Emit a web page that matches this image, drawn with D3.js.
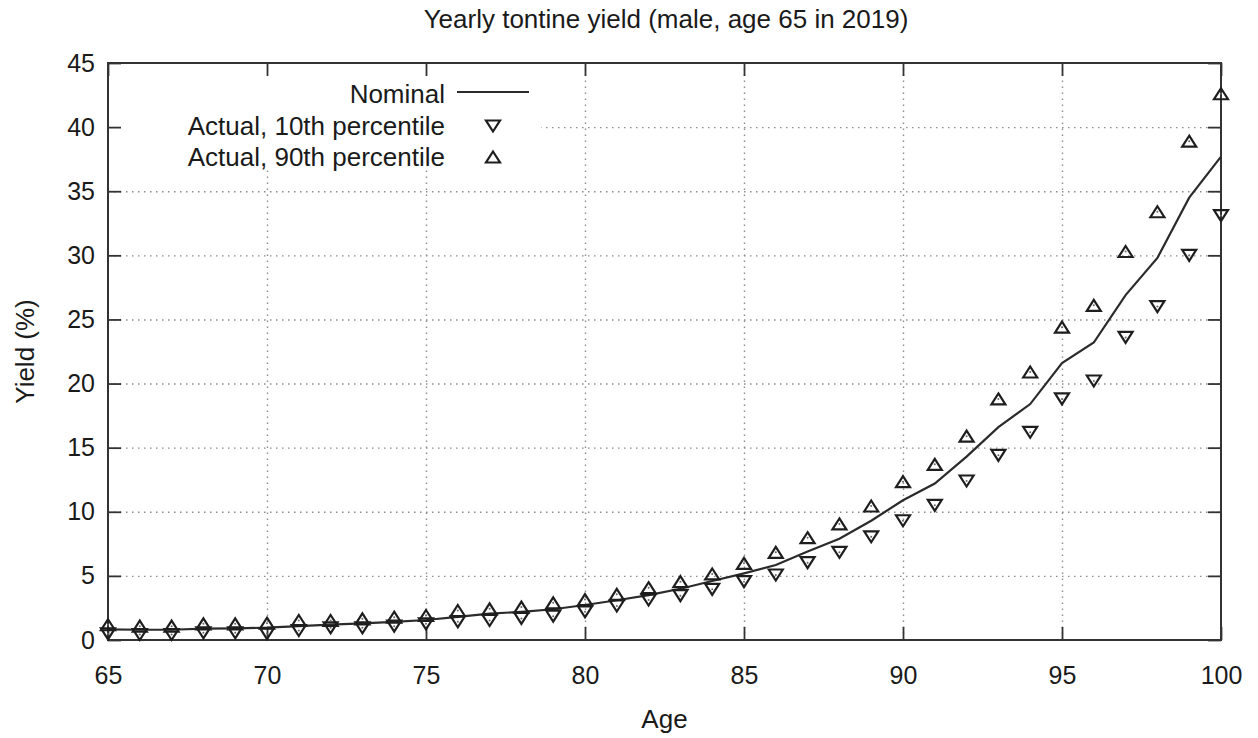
<!DOCTYPE html>
<html>
<head>
<meta charset="utf-8">
<script src="https://cdn.jsdelivr.net/npm/d3@7"></script>
<style>
    body { margin: 0; background: #fff; }
    text { font-family: "Liberation Sans", Arial, sans-serif; fill: #1a1a1a; }
    .grid line { stroke: #8c8c8c; stroke-width: 1.4; stroke-dasharray: 1.5 4.5; }
    .grid path { display: none; }
</style>
</head>
<body>
<div class="wrapper"></div>
<script>
const ages = [65, 66, 67, 68, 69, 70, 71, 72, 73, 74, 75, 76, 77, 78, 79, 80, 81, 82,
    83, 84, 85, 86, 87, 88, 89, 90, 91, 92, 93, 94, 95, 96, 97, 98, 99, 100];

const nominal = [0.83, 0.8, 0.8, 0.88, 0.9, 0.96, 1.08, 1.2, 1.3, 1.42, 1.56, 1.8, 2.05, 2.2,
    2.4, 2.73, 3.1, 3.5, 4.0, 4.6, 5.2, 5.85, 6.9, 7.9, 9.3, 10.9, 12.2, 14.3, 16.6, 18.4,
    21.6, 23.2, 26.9, 29.8, 34.5, 37.7];

const p10 = [0.48, 0.43, 0.43, 0.56, 0.56, 0.5, 0.74, 0.95, 0.95, 1.08, 1.26, 1.42, 1.52, 1.68,
    1.86, 2.2, 2.65, 3.12, 3.46, 3.95, 4.55, 5.07, 6.03, 6.84, 8.05, 9.3, 10.5, 12.4, 14.4, 16.2,
    18.8, 20.2, 23.6, 26.0, 30.0, 33.1];

const p90 = [1.19, 1.08, 1.08, 1.26, 1.26, 1.31, 1.52, 1.52, 1.65, 1.78, 1.91, 2.3, 2.43, 2.57,
    2.9, 3.15, 3.56, 4.08, 4.55, 5.15, 5.98, 6.84, 7.98, 9.05, 10.45, 12.35, 13.7, 15.9, 18.8, 20.9,
    24.4, 26.1, 30.3, 33.4, 38.9, 42.6];

const xTicks = [65, 70, 75, 80, 85, 90, 95, 100];
const yTicks = [0, 5, 10, 15, 20, 25, 30, 35, 40, 45];

const legendLabels = ["Nominal", "Actual, 10th percentile", "Actual, 90th percentile"];

const margin = {top: 63, right: 37, bottom: 98, left: 108},
    width = 1258 - margin.left - margin.right,
    height = 738 - margin.top - margin.bottom;

const svg = d3.select(".wrapper").append("svg")
    .attr("width", 1258)
    .attr("height", 738);

const g = svg.append("g")
    .attr("transform", "translate(" + margin.left + "," + margin.top + ")");

const x = d3.scaleLinear().domain([65, 100]).range([0, width]);
const y = d3.scaleLinear().domain([0, 45]).range([height, 0]);

// grid (inner ticks only)
g.append("g").attr("class", "grid")
    .call(d3.axisBottom(x).tickValues(xTicks.slice(1, -1)).tickSize(-height).tickFormat(""))
    .attr("transform", "translate(0," + height + ")");
g.append("g").attr("class", "grid")
    .call(d3.axisLeft(y).tickValues(yTicks.slice(1, -1)).tickSize(-width).tickFormat(""));

// opaque key box
g.append("rect")
    .attr("x", 1).attr("y", 1)
    .attr("width", 432).attr("height", 106)
    .style("fill", "#fff");

// axes with inward ticks on all four sides
const tick = 13;
const axB = g.append("g").attr("transform", "translate(0," + height + ")")
    .call(d3.axisBottom(x).tickValues(xTicks).tickSize(-tick).tickPadding(26));
const axL = g.append("g")
    .call(d3.axisLeft(y).tickValues(yTicks).tickSize(-tick).tickPadding(13));
g.append("g").call(d3.axisTop(x).tickValues(xTicks).tickSize(-tick).tickFormat(""));
g.append("g").attr("transform", "translate(" + width + ",0)")
    .call(d3.axisRight(y).tickValues(yTicks).tickSize(-tick).tickFormat(""));

g.selectAll(".domain").remove();
g.selectAll(".tick line").filter(function () { return !this.closest(".grid"); })
    .attr("stroke", "#333").attr("stroke-width", 1.8);
[axB, axL].forEach(a => a.selectAll("text")
    .style("font-size", "25px").style("font-family", '"Liberation Sans", Arial, sans-serif')
    .attr("fill", "#1a1a1a"));

g.append("rect")
    .attr("width", width).attr("height", height)
    .style("fill", "none").style("stroke", "#333").style("stroke-width", 2);

// nominal line
const line = d3.line()
    .x((d, i) => x(ages[i]))
    .y(d => y(d));

g.append("path")
    .datum(nominal)
    .attr("d", line)
    .style("fill", "none")
    .style("stroke", "#2b2b2b")
    .style("stroke-width", 2.2);

const upTri = "M0,-5.5L7,5.5L-7,5.5Z";
const downTri = "M0,5.5L7,-5.5L-7,-5.5Z";

function markers(values, shape) {
    const m = g.append("g").selectAll("g")
        .data(values).enter().append("g")
        .attr("transform", (d, i) => "translate(" + x(ages[i]) + "," + y(d) + ")");
    m.append("path").attr("d", shape)
        .style("fill", "none").style("stroke", "#1e1e1e").style("stroke-width", 2.2)
        .style("stroke-linejoin", "miter");
    m.append("circle").attr("r", 1).style("fill", "#666");
}
markers(p10, downTri);
markers(p90, upTri);

// legend
const legendY = [94, 126, 157];
const legend = svg.append("g");
legendLabels.forEach((label, i) => {
    legend.append("text")
        .attr("x", 445).attr("y", legendY[i])
        .attr("dy", "0.34em")
        .attr("text-anchor", "end")
        .style("font-size", "26px")
        .text(label);
});
legend.append("line")
    .attr("x1", 457).attr("x2", 529)
    .attr("y1", legendY[0] - 2).attr("y2", legendY[0] - 2)
    .style("stroke", "#2b2b2b").style("stroke-width", 2.2);
legend.append("path").attr("transform", "translate(493," + legendY[1] + ")")
    .attr("d", downTri).style("fill", "none").style("stroke", "#1e1e1e").style("stroke-width", 2.2);
legend.append("path").attr("transform", "translate(493," + legendY[2] + ")")
    .attr("d", upTri).style("fill", "none").style("stroke", "#1e1e1e").style("stroke-width", 2.2);

// title and axis labels
svg.append("text")
    .attr("x", 666).attr("y", 28)
    .attr("text-anchor", "middle")
    .style("font-size", "26px")
    .text("Yearly tontine yield (male, age 65 in 2019)");

svg.append("text")
    .attr("x", margin.left + width / 2).attr("y", 728)
    .attr("text-anchor", "middle")
    .style("font-size", "26px")
    .text("Age");

svg.append("text")
    .attr("transform", "translate(34," + (margin.top + height / 2) + ") rotate(-90)")
    .attr("text-anchor", "middle")
    .style("font-size", "26px")
    .text("Yield (%)");
</script>
</body>
</html>
